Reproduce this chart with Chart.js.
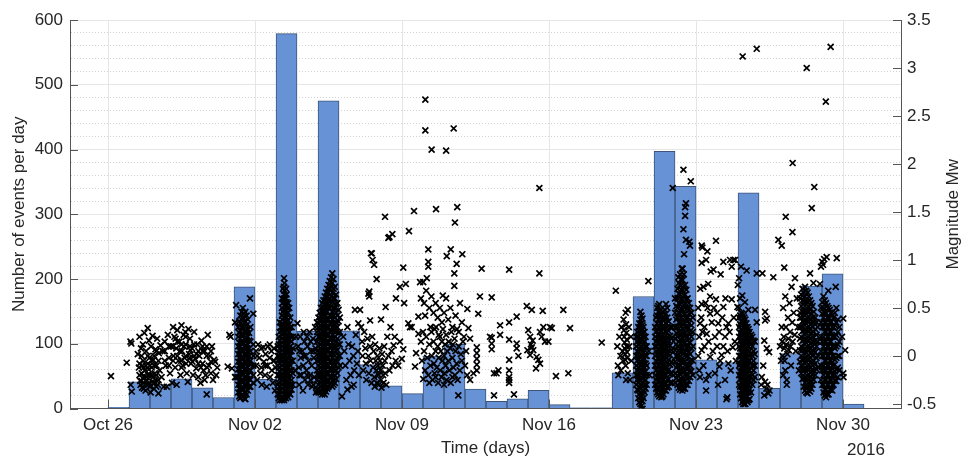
<!DOCTYPE html>
<html>
<head>
<meta charset="utf-8">
<script src="https://cdn.jsdelivr.net/npm/chart.js@4.4.1/dist/chart.umd.min.js"></script>
<style>
html, body { margin: 0; padding: 0; background: #fff; }
</style>
</head>
<body>
<canvas id="quakeChart" width="963" height="460"></canvas>
<script>
const ctx = document.getElementById('quakeChart').getContext('2d');

// Number of events per day, first bin = Oct 26 2016 (day 0)
const dailyCounts = [2, 41, 37, 46, 32, 17, 188, 45, 579, 119, 475, 120, 68, 35, 23, 81, 99, 30,
    11, 15, 28, 6, 1, 1, 55, 173, 397, 343, 75, 71, 333, 31, 85, 189, 208, 7];

// x axis ticks (days since Oct 26) and their labels
const weekTicks = [0, 7, 14, 21, 28, 35];
const weekLabels = ['Oct 26', 'Nov 02', 'Nov 09', 'Nov 16', 'Nov 23', 'Nov 30'];
const magTicks = [-0.5, 0, 0.5, 1, 1.5, 2, 2.5, 3, 3.5];

// events: [day, magnitude, magnitude, ...] (events logged at about the same time share a row)
const eventsLateOct = [
    [0.14, -0.21], [0.89, -0.07], [1.07, 0.15], [1.11, 0.13], [1.13, -0.37], [1.08, -0.3],
    [1.42, 0.02], [1.47, -0.12], [1.5, 0.2], [1.53, -0.26], [1.55, -0.3], [1.57, 0.08], [1.6, -0.18],
    [1.62, -0.33], [1.64, -0.1], [1.66, 0.12], [1.68, -0.05], [1.7, -0.22], [1.71, -0.28], [1.73, 0.24],
    [1.76, -0.15], [1.79, -0.36], [1.81, 0.05], [1.84, -0.22], [1.86, -0.3], [1.89, 0.29], [1.9, -0.08],
    [1.92, -0.3], [1.94, -0.14], [1.95, 0.16], [1.97, -0.02], [1.98, -0.28], [2.0, -0.2], [2.03, -0.38],
    [2.05, 0.1], [2.08, -0.12], [2.1, -0.27], [2.12, 0.21], [2.14, -0.22], [2.15, -0.04], [2.18, -0.34],
    [2.2, 0.0], [2.23, -0.18], [2.26, 0.07], [2.28, -0.25], [2.3, -0.32], [2.31, -0.1], [2.34, 0.18],
    [2.37, -0.3], [2.4, -0.39], [2.42, 0.03], [2.46, -0.15], [2.5, 0.11],
    [1.5, -0.2, -0.08], [1.6, -0.26, 0.0], [1.7, -0.12, -0.34], [1.8, -0.1, -0.26], [1.9, -0.2, 0.0],
    [2.0, -0.1, -0.32], [2.1, -0.05, -0.2], [2.2, -0.1, -0.28], [2.3, -0.2, 0.05], [2.4, -0.05, -0.25],
    [2.55, -0.22], [2.6, 0.05], [2.65, -0.32], [2.7, 0.15, 0.05, -0.05], [2.75, -0.1], [2.8, -0.32], [2.85, 0.22],
    [2.9, -0.02, 0.1, -0.1], [2.95, -0.18], [3.0, 0.1], [3.05, -0.28], [3.1, 0.3, 0.1, -0.05], [3.12, 0.0], [3.16, 0.2],
    [3.2, -0.12], [3.22, 0.18], [3.25, 0.08], [3.27, -0.3], [3.3, 0.27, 0.0, 0.15], [3.35, -0.05], [3.4, 0.15],
    [3.42, 0.05], [3.45, -0.2], [3.48, -0.05], [3.5, 0.32, 0.12, -0.12], [3.52, 0.05], [3.56, -0.1], [3.6, 0.22],
    [3.62, 0.1], [3.65, -0.02], [3.68, 0.25], [3.7, 0.12, 0.0, 0.2], [3.72, -0.08], [3.75, -0.18], [3.8, -0.27],
    [3.83, 0.28], [3.86, 0.02], [3.9, 0.18, -0.02, 0.1], [3.92, 0.06], [3.95, -0.08], [4.0, 0.08], [4.02, -0.06],
    [4.05, -0.2], [4.1, 0.25, 0.0, 0.12], [4.15, -0.03], [4.2, -0.13], [4.22, 0.02], [4.25, 0.12], [4.3, -0.22, 0.05, -0.08],
    [4.35, 0.0], [4.4, -0.28], [4.42, -0.12], [4.45, 0.16], [4.5, -0.08, 0.05, 0.1], [4.55, -0.15], [4.6, 0.05, -0.25],
    [4.65, -0.2], [4.7, -0.4, 0.0, 0.1], [4.72, -0.12], [4.75, 0.22], [4.8, -0.1], [4.85, 0.0], [4.9, -0.18, -0.06, 0.05],
    [4.95, 0.1], [5.0, -0.25], [5.05, -0.04], [5.1, -0.06], [5.15, -0.2], [5.2, -0.12],
    [5.7, -0.11], [5.78, 0.22], [5.84, 0.2], [5.9, -0.13], [6.05, 0.35, -0.22], [6.1, 0.53, -0.22]
];

const eventsEarlyNov = [
    [6.2, 0.3, 0.2, 0.1, 0.02, -0.06, -0.14, -0.22, -0.3, -0.38],
    [6.25, 0.36, 0.24, 0.14, 0.06, -0.02, -0.1, -0.18, -0.26, -0.34, -0.42],
    [6.3, 0.42, 0.34, 0.26, 0.18, 0.1, 0.02, -0.06, -0.14, -0.22, -0.3, -0.38, -0.44],
    [6.36, 0.46, 0.38, 0.3, 0.22, 0.14, 0.06, -0.02, -0.1, -0.18, -0.26, -0.34, -0.41],
    [6.42, 0.5, 0.4, 0.3, 0.22, 0.14, 0.06, -0.02, -0.1, -0.18, -0.26, -0.34, -0.42],
    [6.48, 0.44, 0.35, 0.26, 0.18, 0.1, 0.02, -0.06, -0.14, -0.22, -0.3, -0.38, -0.44],
    [6.54, 0.46, 0.36, 0.27, 0.18, 0.1, 0.02, -0.06, -0.14, -0.22, -0.3, -0.38, -0.45],
    [6.6, 0.42, 0.32, 0.24, 0.16, 0.08, 0.0, -0.08, -0.16, -0.24, -0.32, -0.4],
    [6.66, 0.38, 0.28, 0.2, 0.12, 0.04, -0.04, -0.12, -0.2, -0.28, -0.36],
    [6.72, 0.24, 0.16, 0.08, 0.0, -0.08, -0.16, -0.24, -0.32],
    [6.76, 0.6], [6.78, 0.3, 0.15, 0.05, -0.05, -0.15, -0.25, -0.32],
    [6.92, 0.44, 0.12, 0.0, -0.1, -0.2, -0.28],
    [7.05, 0.05, -0.1], [7.1, -0.25, 0.0], [7.15, 0.12], [7.2, -0.02], [7.25, -0.18], [7.3, 0.08, -0.12], [7.32, -0.3],
    [7.4, 0.09], [7.42, -0.06], [7.48, -0.2], [7.5, 0.02, -0.1], [7.56, -0.32], [7.6, -0.1], [7.62, 0.1],
    [7.7, -0.02, 0.12], [7.72, -0.22], [7.78, 0.05], [7.8, -0.15], [7.85, -0.28], [7.88, -0.05], [7.9, 0.08],
    [7.92, -0.05], [7.95, -0.36], [7.98, -0.12],
    [8.08, 0.1, 0.0, -0.1, -0.2, -0.3, -0.4],
    [8.13, 0.2, 0.12, 0.04, -0.04, -0.12, -0.2, -0.28, -0.36, -0.44],
    [8.18, 0.35, 0.25, 0.16, 0.08, 0.0, -0.08, -0.16, -0.24, -0.32, -0.4, -0.46],
    [8.23, 0.3, 0.12, -0.04, -0.2, -0.36],
    [8.28, 0.6, 0.5, 0.42, 0.34, 0.26, 0.18, 0.1, 0.02, -0.06, -0.14, -0.22, -0.3, -0.38, -0.46],
    [8.3, 0.55, 0.38, 0.3, 0.14, 0.06, -0.1, -0.18, -0.34, -0.42],
    [8.33, 0.7, 0.46, 0.22, -0.02, -0.26],
    [8.38, 0.81, 0.72, 0.64, 0.56, 0.48, 0.4, 0.32, 0.24, 0.16, 0.08, 0.0, -0.08, -0.16, -0.24, -0.32, -0.4, -0.46],
    [8.4, 0.76, 0.68, 0.6, 0.52, 0.44, 0.28, 0.2, 0.04, -0.04, -0.2, -0.28, -0.44],
    [8.43, 0.6, 0.36, 0.12, -0.12, -0.36],
    [8.48, 0.7, 0.6, 0.52, 0.44, 0.36, 0.28, 0.2, 0.12, 0.04, -0.04, -0.12, -0.2, -0.28, -0.36, -0.44],
    [8.5, 0.64, 0.56, 0.4, 0.32, 0.16, 0.08, -0.08, -0.16, -0.32, -0.4],
    [8.53, 0.5, 0.26, 0.02, -0.22, -0.4],
    [8.58, 0.55, 0.45, 0.37, 0.29, 0.21, 0.13, 0.05, -0.03, -0.11, -0.19, -0.27, -0.35, -0.43],
    [8.63, 0.5, 0.33, 0.25, 0.17, 0.09, 0.01, -0.07, -0.15, -0.23, -0.31, -0.39],
    [8.68, 0.4, 0.3, 0.2, 0.1, 0.0, -0.1, -0.2, -0.3, -0.4],
    [8.74, 0.3, 0.15, 0.05, -0.05, -0.15, -0.25, -0.35],
    [8.8, 0.2, 0.08, -0.05, -0.18, -0.3], [8.9, -0.15], [8.95, 0.2],
    [9.02, 0.34], [9.05, 0.1], [9.08, -0.12], [9.1, -0.3], [9.12, 0.05, -0.2], [9.15, 0.2], [9.18, -0.02], [9.2, -0.2],
    [9.25, 0.05], [9.28, -0.36], [9.3, -0.1], [9.32, 0.0, 0.25], [9.35, 0.15], [9.38, -0.25], [9.42, 0.0], [9.45, -0.15],
    [9.48, -0.2, 0.2], [9.5, 0.1], [9.52, -0.3], [9.55, -0.05], [9.6, 0.25], [9.62, -0.2], [9.65, -0.25, 0.15],
    [9.66, 0.05], [9.7, -0.1], [9.72, -0.32], [9.76, 0.18], [9.78, 0.05, -0.3], [9.8, -0.02], [9.82, -0.22],
    [9.86, 0.3], [9.88, 0.08], [9.9, -0.38],
    [9.95, 0.35, 0.25, 0.15, 0.05, -0.05, -0.15, -0.25, -0.35],
    [10.02, 0.4, 0.3, 0.2, 0.1, 0.0, -0.1, -0.2, -0.3, -0.38],
    [10.08, 0.45, 0.36, 0.28, 0.2, 0.12, 0.04, -0.04, -0.12, -0.2, -0.28, -0.36],
    [10.14, 0.5, 0.42, 0.32, 0.24, 0.16, 0.08, 0.0, -0.08, -0.16, -0.24, -0.32, -0.38],
    [10.2, 0.55, 0.46, 0.38, 0.3, 0.22, 0.14, 0.06, -0.02, -0.1, -0.18, -0.26, -0.34, -0.4],
    [10.26, 0.58, 0.5, 0.42, 0.34, 0.26, 0.18, 0.1, 0.02, -0.06, -0.14, -0.22, -0.3, -0.37],
    [10.32, 0.62, 0.54, 0.46, 0.38, 0.3, 0.22, 0.14, 0.06, -0.02, -0.1, -0.18, -0.26, -0.34, -0.4],
    [10.38, 0.66, 0.58, 0.5, 0.42, 0.34, 0.26, 0.18, 0.1, 0.02, -0.06, -0.14, -0.22, -0.3, -0.37],
    [10.44, 0.7, 0.62, 0.54, 0.46, 0.38, 0.3, 0.22, 0.14, 0.06, -0.02, -0.1, -0.18, -0.26, -0.34],
    [10.5, 0.74, 0.66, 0.58, 0.5, 0.38, 0.3, 0.22, 0.14, 0.06, -0.02, -0.1, -0.18, -0.26, -0.32],
    [10.56, 0.78, 0.7, 0.6, 0.5, 0.42, 0.34, 0.26, 0.18, 0.1, 0.02, -0.06, -0.14, -0.22, -0.3],
    [10.62, 0.82, 0.72, 0.62, 0.52, 0.42, 0.34, 0.26, 0.18, 0.1, 0.02, -0.06, -0.14, -0.22, -0.28],
    [10.68, 0.86, 0.76, 0.66, 0.56, 0.46, 0.38, 0.3, 0.22, 0.14, 0.06, -0.02, -0.1, -0.18, -0.26, -0.32],
    [10.74, 0.8, 0.7, 0.6, 0.5, 0.42, 0.34, 0.26, 0.18, 0.1, 0.02, -0.06, -0.14, -0.22, -0.3],
    [10.8, 0.72, 0.6, 0.5, 0.4, 0.3, 0.2, 0.1, 0.0, -0.1, -0.2, -0.28],
    [10.86, 0.64, 0.54, 0.45, 0.35, 0.25, 0.15, 0.05, -0.05, -0.15, -0.24],
    [10.92, 0.55, 0.42, 0.3, 0.18, 0.06, -0.06, -0.18],
    [10.98, 0.48, 0.36, 0.24, 0.12, 0.0, -0.12],
    [11.04, 0.4, 0.25, 0.12, 0.0, -0.1],
    [11.14, -0.42], [11.2, 0.2], [11.25, 0.05], [11.3, -0.1], [11.35, -0.25], [11.4, 0.3, -0.35],
    [11.45, 0.12], [11.5, -0.05], [11.55, -0.2], [11.6, -0.32], [11.62, 0.1], [11.68, 0.0], [11.7, -0.3],
    [11.72, -0.15], [11.76, 0.48], [11.8, 0.22], [11.85, -0.08], [11.9, 0.05], [11.92, 0.34],
    [11.95, -0.2], [12.0, 0.48]
];

const eventsMidNov = [
    [12.4, 0.65], [12.44, 0.62, 0.67], [12.48, 0.37], [12.52, 1.07], [12.56, 1.07], [12.6, 1.0],
    [12.67, 0.95], [12.79, 0.8], [13.0, 0.38], [13.19, 1.45], [13.22, 0.51], [13.35, 1.23], [13.4, 1.24],
    [13.54, 1.27], [13.6, 0.11], [13.71, 0.6], [13.9, 0.72],
    [12.05, 0.3], [12.1, 0.15], [12.12, 0.0], [12.15, -0.15], [12.2, 0.25], [12.25, 0.08], [12.28, -0.08],
    [12.3, -0.25], [12.35, 0.18], [12.4, 0.0], [12.42, -0.18], [12.48, 0.1], [12.5, -0.05], [12.55, -0.28],
    [12.58, 0.2], [12.62, -0.12], [12.65, 0.05], [12.68, -0.22], [12.7, -0.32], [12.72, 0.12],
    [12.75, -0.05], [12.78, -0.15], [12.8, -0.28], [12.82, 0.0], [12.85, -0.1], [12.88, -0.2], [12.9, -0.3],
    [12.92, 0.08], [12.95, -0.05], [12.98, -0.15], [13.0, -0.25], [13.02, -0.33], [13.05, 0.02],
    [13.08, -0.1], [13.1, -0.2], [13.12, -0.28], [13.15, 0.1], [13.18, -0.05], [13.2, -0.18], [13.25, -0.3],
    [13.3, 0.2], [13.35, 0.0], [13.4, -0.15], [13.45, 0.3], [13.5, 0.05], [13.55, -0.1], [13.65, 0.2],
    [13.7, -0.05], [13.82, -0.1], [13.9, 0.15], [13.99, -0.03], [14.06, 0.07, 0.92], [14.1, 0.55],
    [14.18, 0.75],
    [14.3, 0.34], [14.33, 1.3], [14.38, 0.3], [14.46, 0.3], [14.57, 1.51], [14.62, -0.11], [14.67, 0.03],
    [14.78, 0.23, 0.41], [14.86, 0.77], [14.9, 0.6], [15.01, 0.77], [15.05, 0.55], [15.1, 0.42],
    [15.11, 2.67, 2.35], [15.15, 0.68], [15.18, 0.81], [15.25, 1.11, 0.98, 0.93], [15.3, 0.5],
    [15.35, 0.3], [15.4, 0.62], [15.41, 2.15], [15.5, 0.45], [15.55, 0.28], [15.6, 0.55], [15.62, 1.53],
    [15.7, 0.4], [15.75, 0.22], [15.8, 0.5], [15.9, 0.35], [15.94, 0.63], [16.0, 0.45], [16.1, 0.6, 2.14],
    [16.13, 1.04], [16.2, 0.38], [16.3, 0.5], [16.32, 1.11], [16.4, 0.3], [16.46, 2.37], [16.49, 0.86, 0.73],
    [16.52, 1.39], [16.55, 0.42], [16.6, 0.96], [16.63, 1.55], [16.7, 0.25], [16.76, 0.55], [16.85, 0.35],
    [16.87, 1.06], [16.95, 0.2], [17.11, 0.49], [17.16, 0.29], [17.24, 0.18], [17.63, 0.44], [17.71, 0.62],
    [17.79, 0.91], [18.27, 0.61],
    [14.9, 0.15], [14.95, -0.05], [15.0, 0.25], [15.01, -0.24], [15.05, 0.05], [15.1, -0.15], [15.15, 0.2],
    [15.2, -0.02], [15.25, -0.2], [15.3, 0.12, -0.28], [15.35, -0.1], [15.4, 0.25], [15.42, 0.0],
    [15.45, -0.25], [15.5, 0.15], [15.52, -0.08], [15.55, -0.18], [15.6, 0.05, -0.22], [15.62, 0.3],
    [15.65, -0.12], [15.7, 0.1], [15.72, -0.28], [15.75, -0.02], [15.8, 0.2], [15.82, -0.15], [15.85, 0.05],
    [15.88, -0.22], [15.9, 0.15], [15.92, -0.05], [15.95, 0.28], [16.0, 0.0, -0.3], [16.02, -0.18],
    [16.05, 0.12], [16.08, -0.1], [16.1, 0.22], [16.12, -0.25], [16.15, 0.05], [16.2, -0.05], [16.22, 0.15],
    [16.25, -0.15], [16.3, 0.08], [16.32, -0.28], [16.35, 0.25], [16.4, -0.02, -0.22], [16.42, 0.12],
    [16.45, -0.12], [16.5, 0.18], [16.52, -0.2], [16.55, 0.05], [16.6, -0.08], [16.62, 0.28], [16.65, -0.25],
    [16.68, -0.41], [16.7, 0.1], [16.75, -0.15], [16.8, 0.02], [16.85, -0.05], [16.9, 0.15], [17.0, -0.1],
    [17.05, 0.05], [17.1, -0.2], [17.24, -0.25], [17.4, -0.18],
    [17.56, 0.09, 0.03, -0.03, -0.09, -0.15],
    [18.19, 0.2], [18.27, 0.19, 0.13, 0.07], [18.38, -0.18, -0.41], [18.5, -0.18], [18.59, -0.15],
    [18.67, 0.32, 0.22],
    [19.1, 0.9, 0.35, 0.17, -0.04, -0.15, -0.22, -0.25, -0.28], [19.33, -0.4], [19.46, 0.41, 0.13, 0.08],
    [19.54, 0.0], [19.94, 0.52], [19.97, 0.06], [20.01, 0.27], [20.1, 0.2, 0.01], [20.14, 0.12],
    [20.18, 0.48, 0.09], [20.22, 0.16], [20.25, 0.06], [20.38, -0.13], [20.41, -0.01], [20.49, -0.04],
    [20.54, 1.75, 0.86], [20.57, 0.25, -0.08], [20.65, 0.2], [20.7, 0.47], [20.73, 0.3], [20.81, 0.15],
    [20.97, 0.15], [21.05, 0.3], [21.13, 0.29], [21.33, -0.21], [21.68, 0.48], [21.92, -0.18],
    [22.0, 0.29], [23.51, 0.14], [24.18, 0.68],
    [24.25, 0.1], [24.28, -0.1], [24.3, -0.2], [24.35, 0.2], [24.4, 0.0], [24.42, -0.15], [24.45, 0.3],
    [24.5, 0.05], [24.52, -0.05], [24.55, 0.38], [24.57, 0.27], [24.58, 0.2], [24.6, 0.14, 0.08],
    [24.62, 0.02], [24.63, -0.04], [24.65, 0.45, -0.1], [24.67, 0.33, -0.25], [24.68, 0.24],
    [24.7, 0.17, 0.1], [24.72, 0.04, -0.02], [24.75, 0.48, -0.18], [24.8, 0.3], [24.82, 0.1],
    [24.85, -0.25], [24.9, 0.2], [24.92, -0.05]
];

const eventsLateNov = [
    [25.15, 0.2, 0.1, 0.0, -0.1, -0.2, -0.3],
    [25.2, 0.25, 0.15, 0.05, -0.05, -0.15, -0.25, -0.35],
    [25.25, 0.3, 0.2, 0.12, 0.04, -0.04, -0.12, -0.2, -0.28, -0.36, -0.44],
    [25.3, 0.34, 0.26, 0.16, 0.08, 0.0, -0.08, -0.16, -0.24, -0.32, -0.4, -0.48],
    [25.35, 0.46, 0.38, 0.3, 0.22, 0.14, 0.06, -0.02, -0.1, -0.18, -0.26, -0.34, -0.42, -0.5],
    [25.4, 0.42, 0.34, 0.26, 0.18, 0.1, 0.02, -0.06, -0.14, -0.22, -0.3, -0.38, -0.46, -0.52],
    [25.45, 0.39, 0.32, 0.24, 0.16, 0.08, 0.0, -0.08, -0.16, -0.24, -0.32, -0.4, -0.47, -0.55],
    [25.5, 0.3, 0.2, 0.12, 0.04, -0.04, -0.12, -0.2, -0.28, -0.36, -0.44],
    [25.55, 0.25, 0.15, 0.06, -0.03, -0.12, -0.21, -0.3, -0.38],
    [25.6, 0.2, 0.1, 0.0, -0.08, -0.16, -0.25, -0.34],
    [25.65, 0.1, 0.0, -0.1, -0.2, -0.3], [25.73, 0.78], [25.75, 0.05], [25.78, -0.2],
    [26.05, 0.3, 0.2, 0.1, 0.0, -0.1, -0.2, -0.3],
    [26.1, 0.4, 0.25, 0.15, 0.05, -0.05, -0.15, -0.25, -0.34],
    [26.15, 0.5, 0.42, 0.34, 0.26, 0.18, 0.1, 0.02, -0.06, -0.14, -0.22, -0.3, -0.38],
    [26.2, 0.52, 0.46, 0.38, 0.3, 0.22, 0.14, 0.06, -0.02, -0.1, -0.18, -0.26, -0.34, -0.4],
    [26.25, 0.54, 0.46, 0.38, 0.3, 0.22, 0.14, 0.06, -0.02, -0.1, -0.18, -0.26, -0.34, -0.42],
    [26.3, 0.48, 0.42, 0.34, 0.26, 0.18, 0.1, 0.02, -0.06, -0.14, -0.22, -0.3, -0.38],
    [26.35, 0.42, 0.34, 0.26, 0.18, 0.1, 0.02, -0.06, -0.14, -0.22, -0.3, -0.38, -0.43],
    [26.4, 0.46, 0.38, 0.3, 0.22, 0.14, 0.06, -0.02, -0.1, -0.18, -0.26, -0.34, -0.42],
    [26.45, 0.4, 0.32, 0.24, 0.16, 0.08, 0.0, -0.08, -0.16, -0.24, -0.32, -0.4],
    [26.51, 0.48, 0.38, 0.29, 0.2, 0.12, 0.04, -0.04, -0.12, -0.2, -0.28, -0.36],
    [26.57, 0.54, 0.44, 0.34, 0.25, 0.16, 0.07, -0.02, -0.11, -0.2, -0.29, -0.36],
    [26.63, 0.5, 0.4, 0.3, 0.2, 0.11, 0.02, -0.07, -0.16, -0.25, -0.33],
    [26.7, 0.36, 0.26, 0.16, 0.06, -0.04, -0.14, -0.24, -0.32],
    [26.77, 0.3, 0.21, 0.11, 0.01, -0.09, -0.19, -0.28],
    [26.84, 0.3, 0.18, 0.06, -0.06, -0.18, -0.28], [26.89, 1.75],
    [27.0, 0.6, 0.45, 0.3, 0.18, 0.06, -0.06, -0.18, -0.28],
    [27.06, 0.52, 0.38, 0.24, 0.12, 0.0, -0.12, -0.23],
    [27.12, 0.7, 0.6, 0.5, 0.4, 0.3, 0.2, 0.1, 0.0, -0.1, -0.2, -0.3],
    [27.18, 0.76, 0.65, 0.55, 0.45, 0.35, 0.25, 0.15, 0.05, -0.05, -0.15, -0.25, -0.33],
    [27.24, 0.85, 0.74, 0.64, 0.54, 0.44, 0.35, 0.26, 0.17, 0.08, -0.01, -0.1, -0.19, -0.28, -0.35],
    [27.3, 0.8, 0.69, 0.59, 0.49, 0.4, 0.31, 0.22, 0.13, 0.04, -0.06, -0.15, -0.24, -0.32],
    [27.36, 0.91, 0.79, 0.68, 0.58, 0.48, 0.38, 0.28, 0.18, 0.08, -0.02, -0.12, -0.22, -0.32],
    [27.42, 0.85, 0.73, 0.63, 0.53, 0.43, 0.33, 0.23, 0.13, 0.03, -0.07, -0.17, -0.27],
    [27.48, 0.74, 0.64, 0.54, 0.44, 0.34, 0.24, 0.14, 0.04, -0.06, -0.16, -0.26, -0.34],
    [27.54, 0.69, 0.59, 0.49, 0.39, 0.29, 0.19, 0.09, -0.01, -0.11, -0.21, -0.3],
    [27.6, 0.6, 0.5, 0.4, 0.3, 0.2, 0.1, 0.0, -0.1, -0.2, -0.3],
    [27.66, 0.55, 0.44, 0.34, 0.24, 0.14, 0.04, -0.06, -0.16, -0.26],
    [27.72, 0.5, 0.38, 0.26, 0.14, 0.02, -0.1, -0.22],
    [27.78, 0.45, 0.32, 0.2, 0.08, -0.04, -0.16],
    [27.85, 0.4, 0.25, 0.1, -0.05, -0.2],
    [27.4, 1.94, 1.32, -0.34], [27.75, 1.82], [27.52, 1.59, 1.21], [27.48, 1.55, 1.46], [27.68, 1.19],
    [27.71, 1.15], [27.43, 1.06], [27.32, 0.91], [27.16, 0.82], [27.35, -0.36],
    [28.1, 0.5, 0.0], [28.15, 0.2, -0.15], [28.19, 0.34, -0.22], [28.2, 0.7], [28.25, 0.4],
    [28.27, 1.15, 0.97, 0.54, 0.06], [28.3, 1.13, 0.25], [28.35, 0.72, -0.1], [28.4, 0.3, 0.1],
    [28.45, 0.55], [28.48, 1.0, -0.25, -0.36], [28.51, 0.23], [28.54, 1.09], [28.55, 0.5], [28.58, 0.75],
    [28.6, 0.15, -0.2], [28.67, 0.62, 0.44, -0.01], [28.7, 0.88], [28.75, 0.35], [28.8, 0.05],
    [28.83, 0.9], [28.85, 0.5], [28.9, 0.2, -0.18], [28.95, 1.2, 0.59], [29.0, 0.1, 0.45], [29.05, -0.3],
    [29.06, 0.34], [29.1, 0.25], [29.11, -0.11], [29.15, -0.05], [29.17, 0.85], [29.22, 0.01],
    [29.25, 0.4], [29.3, 0.98, 0.51, 0.1], [29.38, 0.2, -0.25], [29.4, 0.6], [29.45, 0.3, -0.45],
    [29.49, -0.43], [29.5, 0.05], [29.54, 0.34, -0.08], [29.6, 0.25], [29.62, 1.0], [29.65, -0.15],
    [29.7, 0.93, 0.59], [29.75, 0.09], [29.78, 1.0], [29.8, 0.4], [29.85, 0.15], [29.9, -0.05],
    [29.97, 0.51],
    [29.86, 1.0], [30.14, 0.93], [30.05, 0.81, 0.5], [29.99, 0.74], [30.41, 0.89], [30.89, 0.86, 0.35],
    [30.2, 0.63], [30.33, 0.56], [30.49, 0.48], [30.81, 0.48], [30.1, 0.6],
    [30.05, 0.4, 0.3, 0.2, 0.1, 0.0, -0.1, -0.2, -0.3],
    [30.1, 0.42, 0.33, 0.24, 0.16, 0.08, 0.0, -0.08, -0.16, -0.24, -0.32, -0.4],
    [30.15, 0.45, 0.36, 0.28, 0.2, 0.12, 0.04, -0.04, -0.12, -0.2, -0.28, -0.36, -0.44],
    [30.2, 0.44, 0.32, 0.24, 0.16, 0.08, 0.0, -0.08, -0.16, -0.24, -0.32, -0.4, -0.48],
    [30.25, 0.42, 0.34, 0.26, 0.18, 0.1, 0.02, -0.06, -0.14, -0.22, -0.3, -0.38, -0.46, -0.5],
    [30.3, 0.4, 0.3, 0.22, 0.14, 0.06, -0.02, -0.1, -0.18, -0.26, -0.34, -0.42, -0.5],
    [30.35, 0.38, 0.3, 0.22, 0.14, 0.06, -0.02, -0.1, -0.18, -0.26, -0.34, -0.42, -0.5],
    [30.4, 0.34, 0.26, 0.18, 0.1, 0.02, -0.06, -0.14, -0.22, -0.3, -0.38, -0.46],
    [30.45, 0.3, 0.22, 0.14, 0.06, -0.02, -0.1, -0.18, -0.26, -0.34, -0.42, -0.48],
    [30.5, 0.28, 0.18, 0.1, 0.01, -0.06, -0.14, -0.22, -0.3, -0.38, -0.46],
    [30.55, 0.25, 0.15, 0.05, -0.05, -0.15, -0.25, -0.35, -0.45],
    [30.62, 0.22, 0.12, 0.02, -0.08, -0.18, -0.28, -0.38],
    [30.68, 0.2, 0.1, 0.0, -0.1, -0.2, -0.3],
    [30.74, 0.16, 0.05, -0.05, -0.15, -0.25],
    [30.8, 0.15, 0.02, -0.1, -0.22],
    [30.22, 3.12], [30.89, 3.2],
    [31.1, -0.3], [31.13, -0.22], [31.16, 0.86], [31.2, -0.1], [31.25, 0.16, -0.41], [31.29, 0.46, 0.37, -0.27],
    [31.35, -0.34], [31.37, 0.39, 0.08], [31.4, -0.3], [31.44, -0.39], [31.48, 0.04], [31.5, -0.36],
    [31.68, 0.82],
    [31.92, 1.21], [32.08, 1.15], [32.2, 0.92], [32.27, 1.45], [32.59, 1.29], [32.6, 2.01], [32.71, 0.81],
    [32.0, 0.1], [32.05, -0.05], [32.08, 0.3], [32.1, 0.15], [32.12, 0.0], [32.15, 0.5, -0.2], [32.18, 0.2],
    [32.2, 0.08], [32.22, -0.05], [32.25, 0.62, -0.15], [32.28, 0.3], [32.3, 0.12], [32.32, -0.25, -0.3],
    [32.35, 0.02], [32.38, 0.4], [32.4, 0.18], [32.42, 0.06], [32.45, 0.55], [32.48, 0.25], [32.5, 0.1],
    [32.52, -0.1], [32.55, 0.72], [32.58, 0.35], [32.6, 0.15], [32.65, 0.45], [32.7, 0.22], [32.75, 0.05],
    [32.8, 0.6], [32.85, 0.3], [32.9, -0.15], [32.95, 0.4],
    [33.27, 3.0], [33.43, 0.86], [33.51, 1.54], [33.59, 0.76], [33.63, 1.76],
    [32.95, 0.6, 0.45, 0.3, 0.18, 0.06, -0.06],
    [33.01, 0.64, 0.52, 0.4, 0.3, 0.2, 0.1, 0.0, -0.1, -0.18],
    [33.07, 0.7, 0.58, 0.46, 0.36, 0.26, 0.16, 0.06, -0.04, -0.14, -0.24],
    [33.13, 0.66, 0.57, 0.47, 0.37, 0.27, 0.17, 0.07, -0.03, -0.13, -0.23, -0.32],
    [33.19, 0.72, 0.62, 0.52, 0.42, 0.32, 0.22, 0.12, 0.02, -0.08, -0.18, -0.28, -0.36],
    [33.25, 0.68, 0.57, 0.47, 0.37, 0.27, 0.17, 0.07, -0.03, -0.13, -0.23, -0.31, -0.38],
    [33.31, 0.66, 0.56, 0.46, 0.36, 0.26, 0.16, 0.06, -0.04, -0.14, -0.24, -0.32, -0.39],
    [33.37, 0.62, 0.51, 0.41, 0.31, 0.21, 0.11, 0.01, -0.09, -0.19, -0.28, -0.36],
    [33.43, 0.58, 0.48, 0.38, 0.28, 0.18, 0.08, -0.02, -0.12, -0.22, -0.3, -0.37],
    [33.49, 0.55, 0.44, 0.34, 0.24, 0.14, 0.04, -0.06, -0.16, -0.26, -0.34],
    [33.55, 0.52, 0.4, 0.3, 0.2, 0.1, 0.0, -0.1, -0.2, -0.3],
    [33.61, 0.46, 0.35, 0.25, 0.15, 0.05, -0.05, -0.15, -0.25],
    [33.68, 0.4, 0.28, 0.16, 0.04, -0.08, -0.2],
    [33.74, 0.35, 0.22, 0.1, -0.02, -0.14],
    [33.8, 0.3, 0.15, 0.0, -0.12],
    [33.9, 0.75], [33.95, 0.93], [34.01, 0.98], [34.05, 0.95], [34.1, 1.01], [34.22, 1.03], [34.3, 0.68],
    [34.65, 0.72], [34.7, 1.02], [34.18, 2.65], [34.41, 3.22],
    [33.95, 0.5, 0.35, 0.2, 0.05, -0.1, -0.25],
    [34.01, 0.56, 0.44, 0.3, 0.15, 0.0, -0.15, -0.3],
    [34.07, 0.62, 0.5, 0.4, 0.3, 0.2, 0.1, 0.0, -0.1, -0.2, -0.3, -0.38],
    [34.13, 0.58, 0.45, 0.35, 0.25, 0.15, 0.05, -0.05, -0.15, -0.25, -0.35, -0.41],
    [34.19, 0.55, 0.45, 0.35, 0.25, 0.15, 0.05, -0.05, -0.15, -0.25, -0.35, -0.43],
    [34.25, 0.52, 0.4, 0.3, 0.2, 0.1, 0.0, -0.1, -0.2, -0.3, -0.4],
    [34.31, 0.5, 0.4, 0.3, 0.2, 0.1, 0.0, -0.1, -0.2, -0.3, -0.4],
    [34.37, 0.48, 0.35, 0.25, 0.15, 0.05, -0.05, -0.15, -0.25, -0.35],
    [34.43, 0.45, 0.35, 0.25, 0.15, 0.05, -0.05, -0.15, -0.25, -0.35],
    [34.49, 0.42, 0.3, 0.2, 0.1, 0.0, -0.1, -0.2, -0.3, -0.36],
    [34.55, 0.4, 0.3, 0.2, 0.1, 0.0, -0.1, -0.2, -0.3],
    [34.61, 0.45, 0.32, 0.2, 0.08, -0.04, -0.16, -0.26],
    [34.68, 0.5, 0.35, 0.22, 0.1, -0.02, -0.14, -0.26],
    [34.75, 0.38, 0.25, 0.12, 0.0, -0.12, -0.22],
    [34.82, 0.3, 0.15, 0.0, -0.15],
    [34.95, 0.2], [35.01, 0.39, -0.18], [35.02, -0.22], [35.1, 0.06]
];

const fontFamily = '"Liberation Sans", Arial, Helvetica, sans-serif';
const textColor = '#262626';
const axisColor = '#555555';
const tickFont = { family: fontFamily, size: 17 };

// build chart points from the arrays above
const barPoints = dailyCounts.map((v, i) => ({ x: i + 0.5, y: v }));
const eventPoints = [];
[eventsLateOct, eventsEarlyNov, eventsMidNov, eventsLateNov].forEach(group => {
    group.forEach(row => {
        for (let k = 1; k < row.length; k++) {
            eventPoints.push({ x: row[0], y: row[k] });
        }
    });
});

// inward tick marks, right axis title and the year label (MATLAB look)
const axisExtras = {
    id: 'axisExtras',
    afterDatasetsDraw(chart) {
        const { ctx, chartArea: area, scales } = chart;
        ctx.save();
        ctx.strokeStyle = axisColor;
        ctx.lineWidth = 1;
        ctx.beginPath();
        weekTicks.forEach(v => {
            const px = Math.round(scales.x.getPixelForValue(v)) + 0.5;
            ctx.moveTo(px, area.bottom);
            ctx.lineTo(px, area.bottom - 9);
        });
        scales.y.ticks.forEach(t => {
            if (Math.round(t.value) % 100 !== 0) return;
            const py = Math.round(scales.y.getPixelForValue(t.value)) + 0.5;
            ctx.moveTo(area.left, py);
            ctx.lineTo(area.left + 8, py);
        });
        magTicks.forEach(v => {
            const py = Math.round(scales.y2.getPixelForValue(v)) + 0.5;
            ctx.moveTo(area.right, py);
            ctx.lineTo(area.right - 8, py);
        });
        ctx.stroke();
        ctx.restore();
    },
    afterDraw(chart) {
        const { ctx, chartArea: area } = chart;
        ctx.save();
        ctx.fillStyle = textColor;
        ctx.font = '17px ' + fontFamily;
        ctx.textAlign = 'center';
        ctx.textBaseline = 'middle';
        ctx.fillText('2016', 866, 450);
        ctx.translate(953, (area.top + area.bottom) / 2);
        ctx.rotate(-Math.PI / 2);
        ctx.fillText('Magnitude Mw', 0, 0);
        ctx.restore();
    }
};

new Chart(ctx, {
    type: 'bar',
    data: {
        datasets: [
            {
                type: 'scatter',
                label: 'Magnitude',
                data: eventPoints,
                yAxisID: 'y2',
                order: 0,
                pointStyle: 'crossRot',
                pointRadius: 4.2,
                borderWidth: 1.7,
                borderColor: '#000000',
                backgroundColor: '#000000'
            },
            {
                type: 'bar',
                label: 'Events per day',
                data: barPoints,
                yAxisID: 'y',
                order: 1,
                backgroundColor: '#6892d6',
                borderColor: '#3b5478',
                borderWidth: 1,
                barPercentage: 1,
                categoryPercentage: 1
            }
        ]
    },
    plugins: [axisExtras],
    options: {
        responsive: false,
        animation: false,
        layout: { padding: { top: 20, left: 0, right: 0, bottom: 0 } },
        plugins: {
            legend: { display: false },
            tooltip: { enabled: false }
        },
        scales: {
            x: {
                type: 'linear',
                min: -1.81,
                max: 37.76,
                offset: false,
                afterBuildTicks: s => { s.ticks = weekTicks.map(v => ({ value: v })); },
                afterFit: s => { s.height = 51.5; },
                ticks: {
                    autoSkip: false,
                    maxRotation: 0,
                    padding: 7,
                    color: textColor,
                    font: tickFont,
                    callback: v => weekLabels[weekTicks.indexOf(v)]
                },
                grid: { color: '#e6e6e6', drawTicks: false, offset: false },
                border: { color: axisColor },
                title: {
                    display: true,
                    text: 'Time (days)',
                    color: textColor,
                    font: tickFont,
                    padding: { top: 0, bottom: 1 }
                }
            },
            y: {
                position: 'left',
                min: 0,
                max: 600,
                afterFit: s => { s.width = 70; },
                ticks: {
                    stepSize: 20,
                    autoSkip: false,
                    padding: 7,
                    color: textColor,
                    font: tickFont,
                    callback: v => (Math.round(v) % 100 === 0 ? v : '')
                },
                grid: {
                    drawTicks: false,
                    color: c => (c.tick && Math.round(c.tick.value) % 100 === 0 ? '#e6e6e6' : '#d2d2d2')
                },
                border: {
                    color: axisColor,
                    dash: c => (c.tick && Math.round(c.tick.value) % 100 !== 0 ? [1, 2] : [])
                },
                title: {
                    display: true,
                    text: 'Number of events per day',
                    color: textColor,
                    font: tickFont,
                    padding: { top: 9, bottom: 0 }
                }
            },
            y2: {
                position: 'right',
                min: -0.547,
                max: 3.5,
                afterBuildTicks: s => { s.ticks = magTicks.map(v => ({ value: v })); },
                afterFit: s => { s.width = 62; },
                ticks: {
                    padding: 6,
                    color: textColor,
                    font: tickFont,
                    callback: v => v
                },
                grid: { drawOnChartArea: false, drawTicks: false },
                border: { color: axisColor }
            }
        }
    }
});
</script>
</body>
</html>
